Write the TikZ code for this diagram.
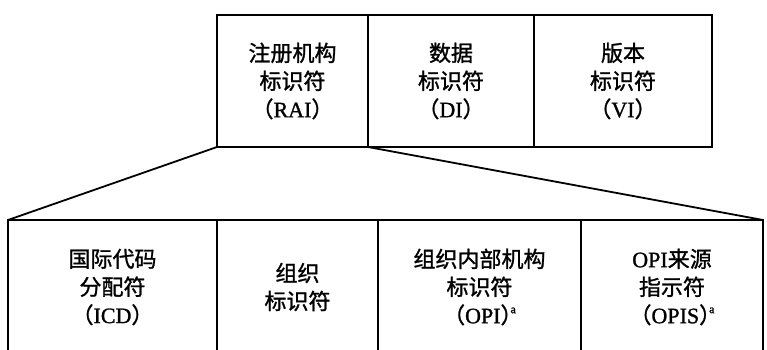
\documentclass[tikz,border=0pt]{standalone}
\usepackage{fontspec}
\setmainfont{Liberation Serif}[FakeBold=1.2]
\newfontfamily\cjk{Noto Sans CJK SC}[FakeBold=1.2]
\usetikzlibrary{positioning}

\newcommand{\supa}{\hspace{-12pt}\raisebox{10pt}{\fontsize{12}{12}\selectfont a}}

\tikzset{
  cell/.style={draw, line width=1.8pt, outer sep=0pt, inner sep=0pt,
    align=center, font=\fontsize{22}{28}\selectfont},
  upper/.style={cell, minimum height=132pt},
  lower/.style={cell, minimum height=134pt},
}

\begin{document}
\begin{tikzpicture}[x=1pt,y=-1pt]
\clip (0,0) rectangle (767,350);

% identifier parts
\node[upper, minimum width=151pt] (rai) at (292.5,81) {{\cjk 注册机构}\\{\cjk 标识符}\\{\cjk （}RAI{\cjk ）}};
\node[upper, minimum width=166pt, right=0pt of rai] (di) {{\cjk 数据}\\{\cjk 标识符}\\{\cjk （}DI{\cjk ）}};
\node[upper, minimum width=178pt, right=0pt of di] (vi) {{\cjk 版本}\\{\cjk 标识符}\\{\cjk （}VI{\cjk ）}};

% parts of the RAI
\node[lower, minimum width=209pt] (icd) at (112.5,287) {{\cjk 国际代码}\\{\cjk 分配符}\\{\cjk （}ICD{\cjk ）}};
\node[lower, minimum width=161pt, right=0pt of icd] (org) {{\cjk 组织}\\{\cjk 标识符}};
\node[lower, minimum width=203pt, right=0pt of org] (opi) {{\cjk 组织内部机构}\\{\cjk 标识符}\\{\cjk （}OPI{\cjk ）}\supa};
\node[lower, minimum width=182pt, right=0pt of opi] (opis) {OPI{\cjk 来源}\\{\cjk 指示符}\\{\cjk （}OPIS{\cjk ）}\supa};

% expansion lines
\draw[line width=1.8pt] (rai.south west) -- (icd.north west);
\draw[line width=1.8pt] (rai.south east) -- (opis.north east);
\end{tikzpicture}
\end{document}
